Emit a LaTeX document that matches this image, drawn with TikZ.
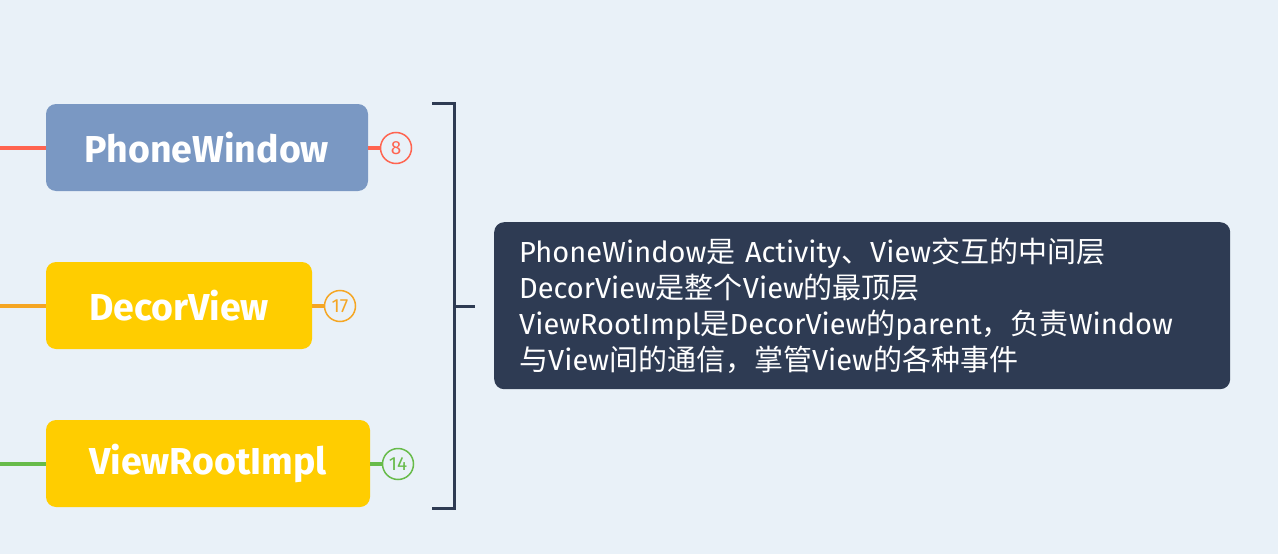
\documentclass[tikz,border=0pt]{standalone}
\usepackage{fontspec}
\setmainfont{Fira Sans}
\newfontfamily\cjk{Noto Sans CJK SC}
\definecolor{bg}{HTML}{E9F1F8}
\definecolor{pwfill}{HTML}{7A98C3}
\definecolor{yel}{HTML}{FFCD00}
\definecolor{red}{HTML}{FF6450}
\definecolor{orng}{HTML}{F5A623}
\definecolor{grn}{HTML}{67BB4A}
\definecolor{navy}{HTML}{2E3B53}
\newcommand{\zh}[1]{{\cjk #1}}
\tikzset{
  topic/.style={rounded corners=10pt, minimum height=87pt, inner sep=0pt, text=white, font=\fontsize{37.5}{42}\selectfont\bfseries},
  badge/.style={circle, draw, line width=1.5pt, minimum size=31pt, inner sep=0pt, font=\fontsize{19}{21}\selectfont, fill=bg},
  link/.style={line width=4pt},
  brack/.style={draw=navy, line width=3pt},
  desc/.style={fill=navy, rounded corners=10pt, text=white, align=left, anchor=north west, minimum width=736pt, minimum height=167pt, inner xsep=25pt, inner ysep=0pt, text width=686pt, font=\fontsize{29}{36}\selectfont}
}
\begin{document}
\begin{tikzpicture}[x=1pt,y=-1pt]
\fill[bg] (0,0) rectangle (1278,554);
\useasboundingbox (0,0) rectangle (1278,554);
% topics
\node[topic, fill=pwfill, minimum width=322pt] (pw) at (207,147.5) {PhoneWindow};
\node[topic, fill=yel, minimum width=266pt] (dv) at (179,305.5) {DecorView};
\node[topic, fill=yel, minimum width=324pt] (vr) at (208,463.5) {ViewRootImpl};
% left connectors
\coordinate (l1) at (0,148);
\coordinate (l2) at (0,306);
\coordinate (l3) at (0,464);
\draw[link, red] (l1) -- (pw.west |- l1);
\draw[link, orng] (l2) -- (dv.west |- l2);
\draw[link, grn] (l3) -- (vr.west |- l3);
% badges
\node[badge, draw=red, text=red] (b1) at (396,148) {8};
\node[badge, draw=orng, text=orng] (b2) at (340,306) {17};
\node[badge, draw=grn, text=grn] (b3) at (398,464) {14};
\draw[link, red] (pw.east |- b1) -- (b1.west);
\draw[link, orng] (dv.east |- b2) -- (b2.west);
\draw[link, grn] (vr.east |- b3) -- (b3.west);
% bracket
\coordinate (bt) at (432,103.5);
\coordinate (bb) at (432,508);
\coordinate (bm) at (475,306);
\draw[brack] (bt) -- (454,103.5) -- (454,508) -- (bb);
\draw[brack] (454,306) -- (bm);
% description
\node[desc] (d) at (494,222) {PhoneWindow\zh{是} Activity\zh{、}View\zh{交互的中间层}\\DecorView\zh{是整个}View\zh{的最顶层}\\ViewRootImpl\zh{是}DecorView\zh{的}parent\zh{，负责}Window\\\zh{与}View\zh{间的通信，掌管}View\zh{的各种事件}};
\end{tikzpicture}
\end{document}
